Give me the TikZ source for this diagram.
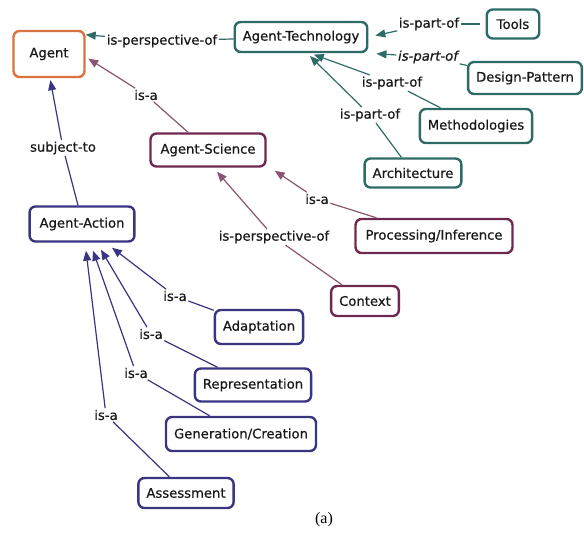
\documentclass[tikz,border=0pt]{standalone}
\usepackage{fontspec}
\setmainfont[FakeBold=0.6]{DejaVu Sans}
\newfontfamily\capfont{Liberation Serif}
\usetikzlibrary{arrows.meta}

\definecolor{agentorange}{HTML}{D9733F}
\definecolor{techteal}{HTML}{2F6B66}
\definecolor{sciplum}{HTML}{6E2A4E}
\definecolor{actnavy}{HTML}{3A3580}

\begin{document}
\begin{tikzpicture}
  [x=1pt,y=-1pt,font=\fontsize{13.2}{15}\selectfont,
   concept/.style={draw,rounded corners=6pt,line width=2.4pt,inner xsep=8pt,minimum height=32pt,fill=white,text=black!90},
   link/.style={fill=white,inner sep=1.5pt,text=black!90},
   arr/.style={-{Triangle[length=10pt,width=8pt]},line width=1.2pt}]
  \useasboundingbox (0,0) rectangle (584,533);

  % concepts
  \node[concept,draw=agentorange,minimum width=71pt,minimum height=46pt] (agent) at (49,54) {Agent};
  \node[concept,draw=techteal,minimum height=30pt] (tech) at (301,37) {Agent-Technology};
  \node[concept,draw=techteal,minimum height=29pt,inner xsep=10pt] (tools) at (513,24) {Tools};
  \node[concept,draw=techteal] (dp) at (525,78) {Design-Pattern};
  \node[concept,draw=techteal,minimum height=34pt] (meth) at (476,126) {Methodologies};
  \node[concept,draw=techteal,minimum height=29pt] (arch) at (413,173) {Architecture};
  \node[concept,draw=sciplum,minimum height=33pt,inner xsep=10pt] (sci) at (208,150) {Agent-Science};
  \node[concept,draw=sciplum,minimum height=34pt,inner xsep=10pt] (proc) at (434,236) {Processing/Inference};
  \node[concept,draw=sciplum,minimum height=30pt] (ctx) at (365,301) {Context};
  \node[concept,draw=actnavy,minimum height=35pt,inner xsep=10pt] (act) at (82,224) {Agent-Action};
  \node[concept,draw=actnavy,minimum height=34pt] (adapt) at (259,327) {Adaptation};
  \node[concept,draw=actnavy,minimum height=33pt] (rep) at (253,385) {Representation};
  \node[concept,draw=actnavy,minimum height=34pt] (gen) at (241,434) {Generation/Creation};
  \node[concept,draw=actnavy,minimum height=30pt] (assess) at (186,493) {Assessment};

  % linking phrases
  \node[link] (lpersp) at (162,41) {is-perspective-of};
  \node[link] (ltools) at (429,24) {is-part-of};
  \node[link] (ldp) at (428,57) {\itshape is-part-of};
  \node[link] (lmeth) at (392,83) {is-part-of};
  \node[link] (larch) at (370,115) {is-part-of};
  \node[link] (lsci) at (146,95) {is-a};
  \node[link] (lsub) at (63,148) {subject-to};
  \node[link] (lproc) at (317,199) {is-a};
  \node[link] (lctx) at (274,237) {is-perspective-of};
  \node[link] (ladapt) at (175,296) {is-a};
  \node[link] (lrep) at (151,334) {is-a};
  \node[link] (lgen) at (136,373) {is-a};
  \node[link] (lassess) at (106,415) {is-a};

  % technology
  \draw[techteal,line width=1.2pt] (tech) -- (lpersp);
  \draw[arr,techteal] (lpersp) -- ([yshift=-5pt]agent.north east);
  \draw[techteal,line width=1.2pt,shorten <=6pt] (tools) -- (ltools);
  \draw[arr,techteal,shorten >=7pt] (ltools) -- (tech.east);
  \draw[techteal,line width=1.2pt] (dp) -- (ldp);
  \draw[arr,techteal,shorten >=8pt] (ldp) -- (tech.south east);
  \draw[techteal,line width=1.2pt] (meth) -- (lmeth);
  \draw[arr,techteal,shorten >=4pt] (lmeth) -- ([xshift=9pt]tech.south);
  \draw[techteal,line width=1.2pt] (arch) -- (larch);
  \draw[arr,techteal,shorten >=4pt] (larch) -- ([xshift=6pt]tech.south);

  % science
  \draw[sciplum!80,line width=1.2pt] (sci) -- (lsci);
  \draw[arr,sciplum!80,shorten >=3pt] (lsci) -- ([yshift=-3pt]agent.east);
  \draw[sciplum!80,line width=1.2pt] (proc) -- (lproc);
  \draw[arr,sciplum!80] (lproc) -- ([xshift=8pt,yshift=-3pt]sci.south east);
  \draw[sciplum!80,line width=1.2pt] (ctx) -- (lctx);
  \draw[arr,sciplum!80] (lctx) -- ([xshift=9pt,yshift=-4pt]sci.south);

  % action
  \draw[actnavy,line width=1.2pt] ([xshift=-4pt]act.north) -- (lsub);
  \draw[arr,actnavy,shorten >=2pt] (lsub) -- ([xshift=1pt]agent.south);
  \draw[actnavy,line width=1.2pt] (adapt) -- (ladapt);
  \draw[arr,actnavy] (ladapt) -- ([xshift=30pt,yshift=-5pt]act.south);
  \draw[actnavy,line width=1.2pt] (rep) -- (lrep);
  \draw[arr,actnavy] (lrep) -- ([xshift=19pt,yshift=-7pt]act.south);
  \draw[actnavy,line width=1.2pt] (gen) -- (lgen);
  \draw[arr,actnavy] (lgen) -- ([xshift=11pt,yshift=-8pt]act.south);
  \draw[actnavy,line width=1.2pt] (assess) -- (lassess);
  \draw[arr,actnavy] (lassess) -- ([xshift=4pt,yshift=-8pt]act.south);

  \node[font=\capfont\fontsize{16}{18}\selectfont] (cap) at (324,520) {(a)};
\end{tikzpicture}
\end{document}
